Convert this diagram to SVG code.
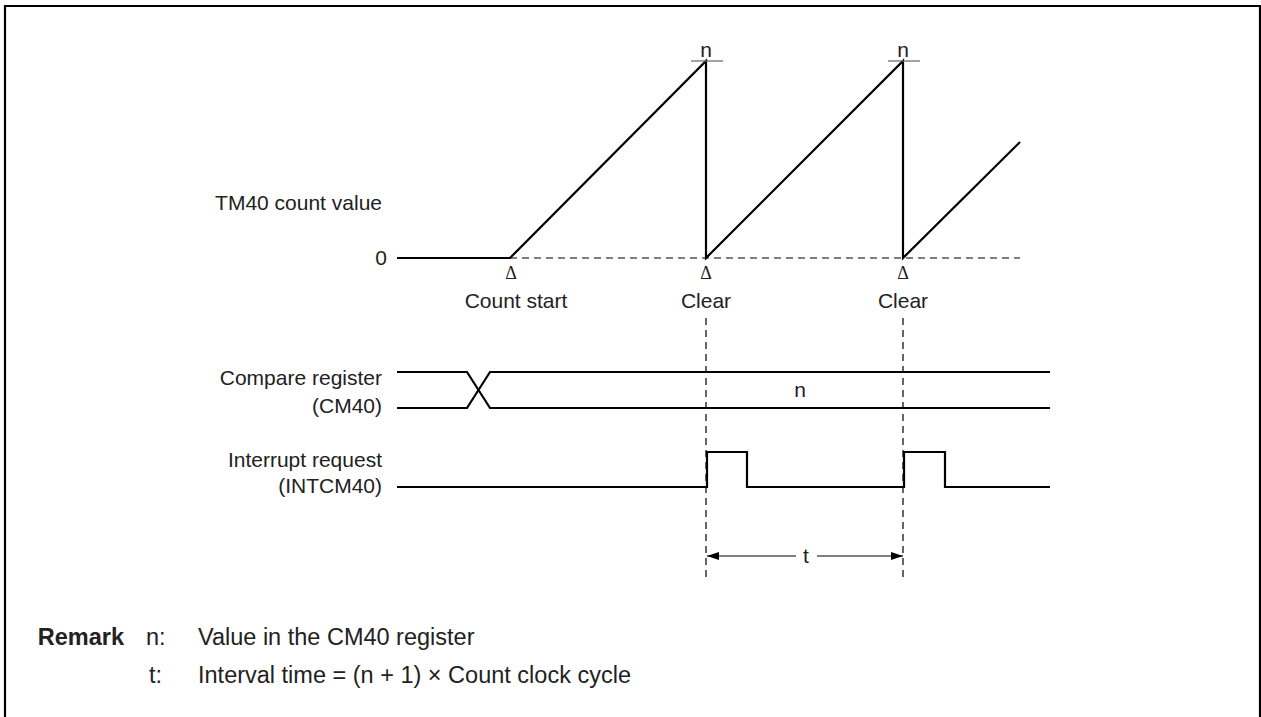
<svg xmlns="http://www.w3.org/2000/svg" width="1261" height="717" viewBox="0 0 1261 717">
<style>
text{font-family:"Liberation Sans",Arial,sans-serif;font-size:21px;fill:#222}
.r{text-anchor:end}
.c{text-anchor:middle}
.sig{fill:none;stroke:#000;stroke-width:2.2;stroke-linejoin:miter}
.dash{fill:none;stroke:#000;stroke-width:1.2;stroke-dasharray:7 5}
.tick{stroke:#666;stroke-width:1.2}
.delta{font-family:"Liberation Serif","Times New Roman",serif;font-size:18px}
.rem{font-size:23.5px}
.b{font-weight:bold}
</style>
<defs>
<marker id="ah" viewBox="0 0 12 8" refX="12" refY="4" markerWidth="12" markerHeight="8" markerUnits="userSpaceOnUse" orient="auto-start-reverse">
<path d="M0,0 L12,4 L0,8 Z" fill="#000"/>
</marker>
</defs>
<rect width="1261" height="717" fill="#fff"/>
<path d="M5,717 V6 H1260 V717" fill="none" stroke="#000" stroke-width="2.2"/>

<g id="count-value">
<text class="r" x="382" y="210">TM40 count value</text>
<text class="r" x="387" y="265">0</text>
<path class="sig" d="M397,258 H510 L706,61 V258 L903,61 V258 L1020,142"/>
<line class="tick" x1="691" y1="61" x2="723" y2="61"/>
<line class="tick" x1="888" y1="61" x2="920" y2="61"/>
<text class="c" x="706" y="57">n</text>
<text class="c" x="903" y="57">n</text>
<text class="c delta" x="511" y="279">Δ</text>
<text class="c delta" x="706" y="279">Δ</text>
<text class="c delta" x="903" y="279">Δ</text>
<text class="c" x="516" y="308">Count start</text>
<text class="c" x="706" y="308">Clear</text>
<text class="c" x="903" y="308">Clear</text>
</g>

<g id="compare-register">
<text class="r" x="382" y="385">Compare register</text>
<text class="r" x="382" y="413">(CM40)</text>
<path class="sig" d="M397,372 H467 L490,408 H1050"/>
<path class="sig" d="M397,408 H467 L490,372 H1050"/>
<text class="c" x="800" y="397">n</text>
</g>

<g id="interrupt-request">
<text class="r" x="382" y="467">Interrupt request</text>
<text class="r" x="382" y="493">(INTCM40)</text>
<path class="sig" d="M397,487 H707 V452 H747 V487 H904 V452 H945 V487 H1050"/>
</g>

<g id="connectors">
<path class="dash" d="M510,258 H1020"/>
<line class="dash" x1="706" y1="318" x2="706" y2="582"/>
<line class="dash" x1="903" y1="318" x2="903" y2="582"/>
<line x1="707" y1="556" x2="796" y2="556" stroke="#000" stroke-width="1.2" marker-start="url(#ah)"/>
<line x1="817" y1="556" x2="903" y2="556" stroke="#000" stroke-width="1.2" marker-end="url(#ah)"/>
<text class="c" x="806" y="563">t</text>
</g>

<g id="remark">
<text class="rem b r" x="124" y="645">Remark</text>
<text class="rem" x="146" y="645">n:</text>
<text class="rem" x="198" y="645">Value in the CM40 register</text>
<text class="rem" x="149" y="683">t:</text>
<text class="rem" x="198" y="683">Interval time = (n + 1) × Count clock cycle</text>
</g>
</svg>
